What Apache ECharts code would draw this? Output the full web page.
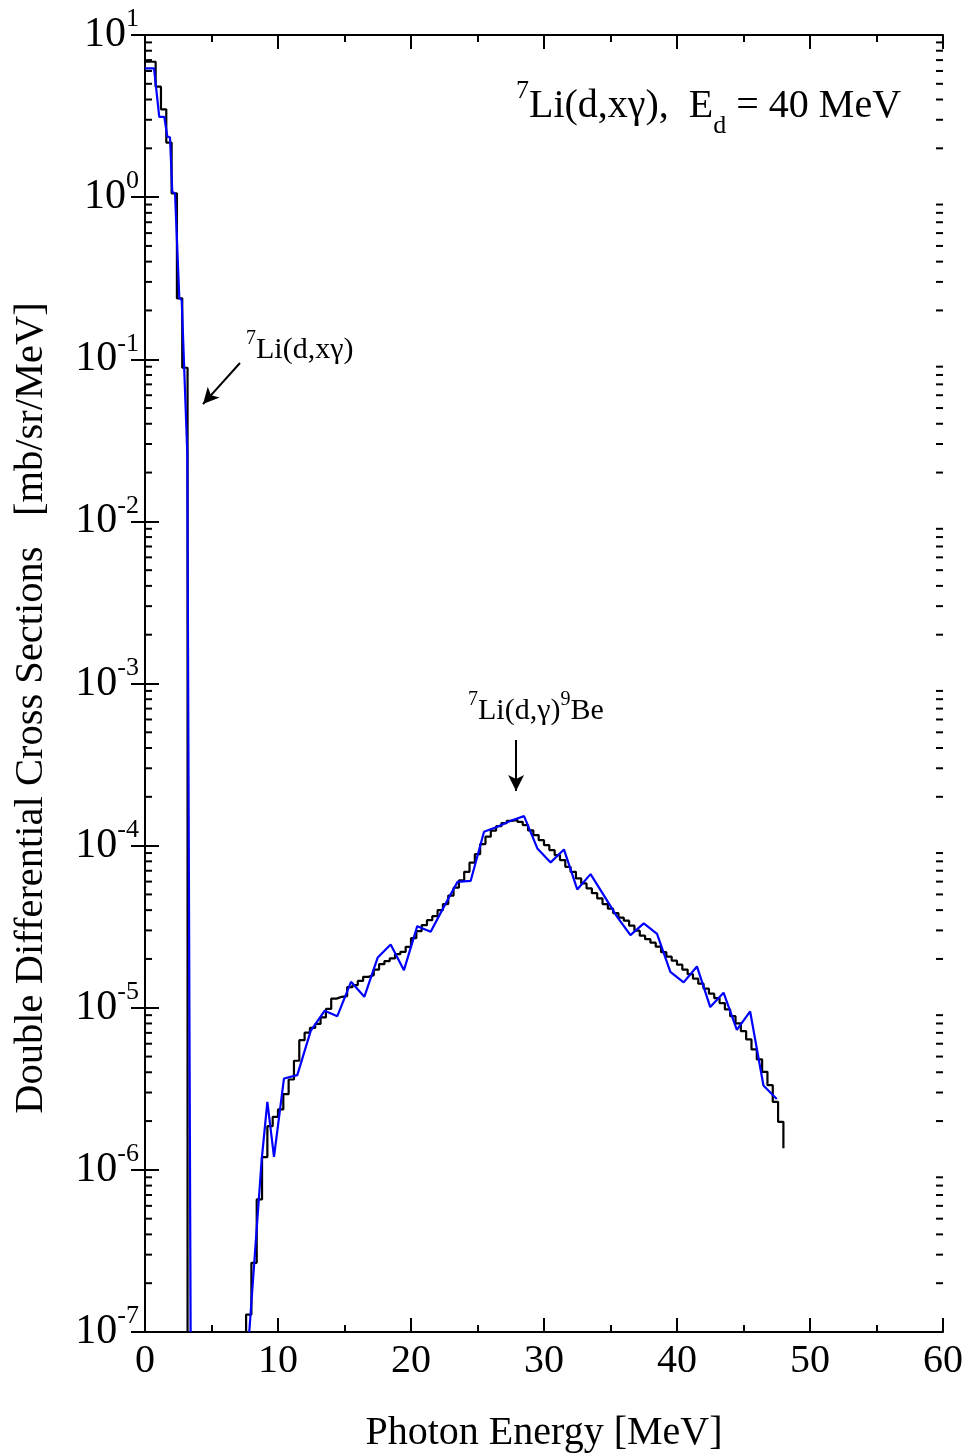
<!DOCTYPE html>
<html>
<head>
<meta charset="utf-8">
<script src="https://cdn.jsdelivr.net/npm/echarts@6/dist/echarts.min.js"></script>
<style>
html,body{margin:0;padding:0;background:#fff;}
#chart{width:968px;height:1456px;}
</style>
</head>
<body>
<div id="chart"></div>
<script>
// ---------------- data ----------------
// Black histogram: bin width 0.4 MeV, starting at 0 MeV (0 = empty bin)
const binStart = 0.0;
const binWidth = 0.4;
const histBins = [
  6.84, 6.84, 4.80, 3.48, 2.17, 1.055, 0.2375, 0.0886,           // 0.0 - 3.2
  0, 0, 0, 0, 0, 0, 0, 0, 0, 0, 0,                               // 3.2 - 7.6
  1.28e-7, 2.67e-7, 6.57e-7, 1.20e-6, 1.86e-6, 2.12e-6, 2.36e-6, 2.93e-6, 3.61e-6, 4.71e-6, 6.31e-6,
  7.02e-6, 7.51e-6, 7.95e-6, 8.71e-6, 9.83e-6, 1.138e-5, 1.168e-5, 1.18e-5, 1.34e-5, 1.379e-5,
  1.463e-5, 1.551e-5, 1.589e-5, 1.719e-5, 1.858e-5, 1.939e-5, 2.015e-5, 2.141e-5, 2.212e-5, 2.375e-5,
  2.688e-5, 2.969e-5, 3.233e-5, 3.47e-5, 3.674e-5, 4.0e-5, 4.357e-5, 4.917e-5, 5.507e-5, 6.1e-5,
  6.892e-5, 7.855e-5, 8.861e-5, 1.022e-4, 1.136e-4, 1.238e-4, 1.319e-4, 1.377e-4, 1.422e-4, 1.443e-4,
  1.402e-4, 1.338e-4, 1.241e-4, 1.161e-4, 1.081e-4, 1.007e-4, 9.383e-5, 8.738e-5, 8.139e-5, 7.399e-5,
  6.892e-5, 6.277e-5, 5.846e-5, 5.445e-5, 5.093e-5, 4.724e-5, 4.357e-5, 4.087e-5, 3.833e-5, 3.596e-5,
  3.445e-5, 3.21e-5, 2.99e-5, 2.785e-5, 2.65e-5, 2.521e-5, 2.382e-5, 2.203e-5, 2.066e-5, 1.952e-5,
  1.845e-5, 1.719e-5, 1.612e-5, 1.512e-5, 1.408e-5, 1.312e-5, 1.222e-5, 1.146e-5, 1.068e-5, 9.761e-6,
  8.874e-6, 8.0e-6, 7.174e-6, 6.375e-6, 5.532e-6, 4.799e-6, 4.023e-6, 3.331e-6, 2.627e-6, 1.978e-6
];
const histTail = 1.36e-6;   // level where the last vertical drop ends

// Blue curve (two pieces)
const blueLowE = [0, 0.68, 1.07, 1.45, 1.68, 1.88, 2.05, 2.26, 2.58, 2.76, 3.18, 3.43];
const blueLowV = [6.23, 6.23, 3.13, 3.13, 2.36, 2.34, 1.08, 1.05, 0.238, 0.232, 0.0264, 1.0e-7];
const blueHighE = [7.84, 8.77, 9.2, 9.7, 10.45, 11.45, 12.46, 13.5, 14.46, 15.49, 16.49, 17.5, 18.47, 19.47,
  20.47, 21.48, 22.5, 23.5, 24.49, 25.49, 26.5, 27.5, 28.5, 29.5, 30.5, 31.5, 32.5, 33.5, 34.5, 35.5,
  36.5, 37.5, 38.5, 39.5, 40.5, 41.5, 42.5, 43.5, 44.5, 45.5, 46.5, 47.5];
const blueHighV = [1.0e-7, 1.148e-6, 2.627e-6, 1.203e-6, 3.664e-6, 3.839e-6, 7.2e-6, 9.57e-6, 8.874e-6, 1.445e-5,
  1.168e-5, 2.043e-5, 2.458e-5, 1.706e-5, 3.186e-5, 2.94e-5, 4.234e-5, 5.98e-5, 6.066e-5, 1.217e-4,
  1.306e-4, 1.422e-4, 1.521e-4, 9.61e-5, 7.879e-5, 9.475e-5, 5.368e-5, 6.672e-5, 4.93e-5, 3.638e-5,
  2.805e-5, 3.313e-5, 2.853e-5, 1.665e-5, 1.433e-5, 1.798e-5, 1.009e-5, 1.239e-5, 7.306e-6, 9.489e-6,
  3.317e-6, 2.737e-6];

// Axes
const xMin = 0, xMax = 60, xStep = 10;
const yMin = 1e-7, yMax = 10;

// Annotations (energy, value)
const arrow1 = [[7.14, 0.0948], [4.36, 0.0529]];
const arrow2 = [[27.9, 4.48e-4], [27.9, 2.17e-4]];

// ---------------- build ----------------
const FONT = '"Liberation Serif", "Times New Roman", serif';
const belowAxis = yMin * 1e-5;   // empty bins drawn below the axis and clipped
const histPts = [];
histBins.forEach((v, i) => {
  const a = binStart + i * binWidth, b = binStart + (i + 1) * binWidth;
  const vv = v > 0 ? v : belowAxis;
  histPts.push([a, vv], [b, vv]);
});
histPts.push([binStart + histBins.length * binWidth, histTail]);

const blueLow = blueLowE.map((e, i) => [e, blueLowV[i]]);
const blueHigh = blueHighE.map((e, i) => [e, blueHighV[i]]);

const minorY = [];
for (let e = Math.round(Math.log10(yMin)); e < Math.round(Math.log10(yMax)); e++) {
  for (let k = 2; k <= 9; k++) minorY.push([xMin, k * Math.pow(10, e)]);
}

const chart = echarts.init(document.getElementById('chart'), null, {renderer: 'canvas'});

const xAxisBase = {
  type: 'value', min: xMin, max: xMax, interval: xStep,
  axisLine: {show: true, lineStyle: {color: '#000', width: 2}},
  axisTick: {show: true, inside: true, length: 14, lineStyle: {color: '#000', width: 2}},
  minorTick: {show: true, splitNumber: 2, length: 7, lineStyle: {color: '#000', width: 2}},
  splitLine: {show: false}, minorSplitLine: {show: false}
};
const yAxisBase = {
  type: 'log', logBase: 10, min: yMin, max: yMax, splitNumber: 8,
  axisLine: {show: true, lineStyle: {color: '#000', width: 2}},
  axisTick: {show: true, inside: true, length: 14, lineStyle: {color: '#000', width: 2}},
  splitLine: {show: false}
};

chart.setOption({
  animation: false,
  backgroundColor: '#fff',
  grid: {left: 145, right: 25, top: 35, bottom: 124, containLabel: false, outerBoundsMode: 'none'},
  xAxis: [
    Object.assign({}, xAxisBase, {
      position: 'bottom',
      axisLabel: {color: '#000', fontFamily: FONT, fontSize: 40, margin: 9},
      name: 'Photon Energy [MeV]', nameLocation: 'middle', nameGap: 81,
      nameTextStyle: {color: '#000', fontFamily: FONT, fontSize: 40}
    }),
    Object.assign({}, xAxisBase, {position: 'top', axisLabel: {show: false}})
  ],
  yAxis: [
    Object.assign({}, yAxisBase, {
      position: 'left',
      axisLabel: {
        color: '#000', margin: 6,
        formatter: v => '{b|10}{s|' + Math.round(Math.log10(v)) + '}',
        rich: {
          b: {fontFamily: FONT, fontSize: 42, color: '#000'},
          s: {fontFamily: FONT, fontSize: 26, color: '#000', padding: [0, 0, 31, 0]}
        }
      }
    }),
    Object.assign({}, yAxisBase, {position: 'right', axisLabel: {show: false}})
  ],
  graphic: [
    {
      type: 'text', x: 31, y: 708, rotation: Math.PI / 2, silent: true,
      style: {
        text: 'Double Differential Cross Sections   [mb/sr/MeV]',
        fontFamily: FONT, fontSize: 40.5, fill: '#000', align: 'center', verticalAlign: 'middle'
      }
    },
    {
      type: 'text', left: 516, top: 78, silent: true,
      style: {
        text: '{sup|7}{b|Li(d,xγ),  E}{sub|d}{b| = 40 MeV}',
        rich: {
          b: {fontFamily: FONT, fontSize: 40, fill: '#000'},
          sup: {fontFamily: FONT, fontSize: 26, fill: '#000', padding: [0, 0, 30, 0]},
          sub: {fontFamily: FONT, fontSize: 26, fill: '#000', padding: [40, 0, 0, 0]}
        }
      }
    },
    {
      type: 'text', left: 246, top: 329, silent: true,
      style: {
        text: '{sup|7}{b|Li(d,xγ)}',
        rich: {
          b: {fontFamily: FONT, fontSize: 30, fill: '#000'},
          sup: {fontFamily: FONT, fontSize: 20, fill: '#000', padding: [0, 0, 22, 0]}
        }
      }
    },
    {
      type: 'text', left: 468, top: 690, silent: true,
      style: {
        text: '{sup|7}{b|Li(d,γ)}{sup|9}{b|Be}',
        rich: {
          b: {fontFamily: FONT, fontSize: 30, fill: '#000'},
          sup: {fontFamily: FONT, fontSize: 20, fill: '#000', padding: [0, 0, 22, 0]}
        }
      }
    }
  ],
  series: [
    {
      type: 'custom', name: 'minorY', xAxisIndex: 0, yAxisIndex: 0, silent: true, clip: false,
      data: minorY,
      renderItem: function (params, api) {
        const v = api.value(1);
        const p = api.coord([xMin, v]);
        const q = api.coord([xMax, v]);
        const st = {stroke: '#000', lineWidth: 2};
        return {
          type: 'group',
          children: [
            {type: 'line', shape: {x1: p[0], y1: p[1], x2: p[0] + 7, y2: p[1]}, style: st},
            {type: 'line', shape: {x1: q[0] - 7, y1: q[1], x2: q[0], y2: q[1]}, style: st}
          ]
        };
      }
    },
    {
      type: 'line', name: 'hist', data: histPts, showSymbol: false, symbol: 'none',
      clip: true, sampling: null,
      lineStyle: {color: '#000', width: 2.2},
      markLine: {
        silent: true, symbol: ['none', 'arrow'], symbolSize: [12, 16],
        label: {show: false},
        lineStyle: {color: '#000', width: 2, type: 'solid'},
        data: [
          [{coord: arrow1[0]}, {coord: arrow1[1]}],
          [{coord: arrow2[0]}, {coord: arrow2[1]}]
        ]
      }
    },
    {
      type: 'line', name: 'blueLow', data: blueLow, showSymbol: false, symbol: 'none', clip: true,
      lineStyle: {color: '#0000ff', width: 2.2}
    },
    {
      type: 'line', name: 'blueHigh', data: blueHigh, showSymbol: false, symbol: 'none', clip: true,
      lineStyle: {color: '#0000ff', width: 2.2}
    }
  ]
});
</script>
</body>
</html>
